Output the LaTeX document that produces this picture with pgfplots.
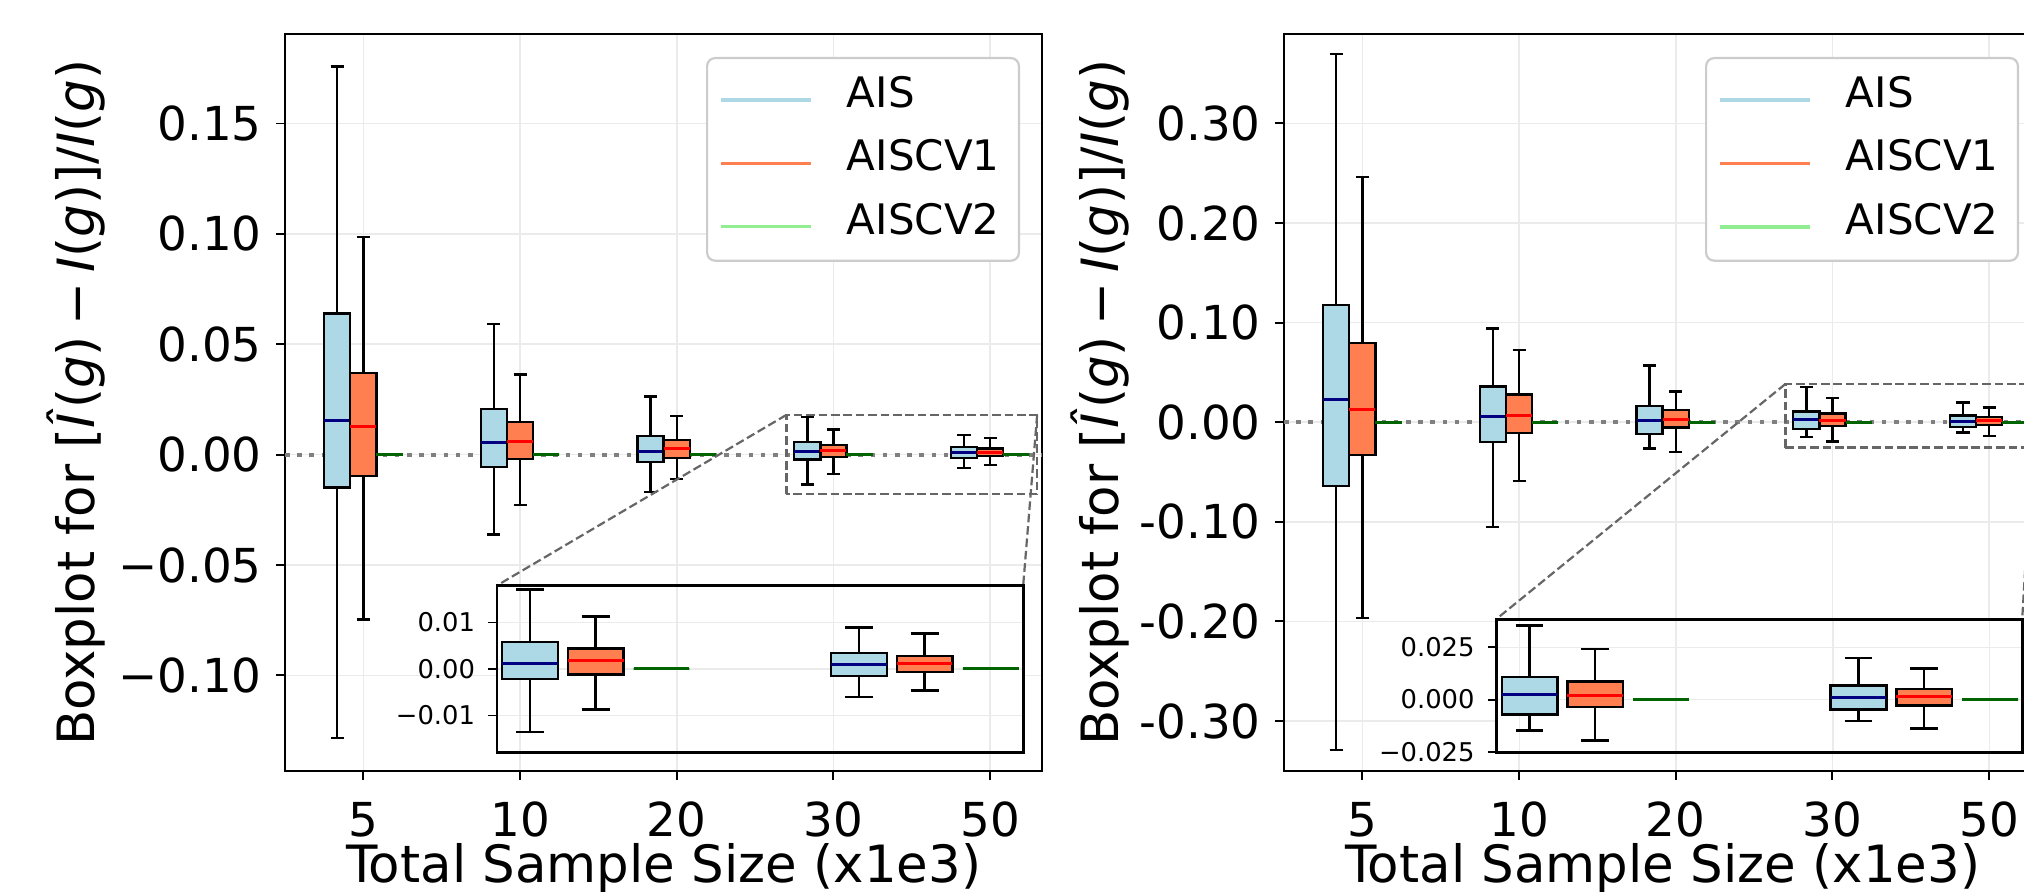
\documentclass[border=0pt]{standalone}
\usepackage{fontspec}
\setmainfont{DejaVu Sans}
\usepackage{pgfplots}
\pgfplotsset{compat=1.18}
\usepgfplotslibrary{statistics}

\definecolor{aisfill}{HTML}{ADD8E6}
\definecolor{cvfill}{HTML}{FF7F50}
\definecolor{cvtwo}{HTML}{90EE90}
\definecolor{navymed}{HTML}{000080}
\definecolor{greenmed}{HTML}{006400}
\definecolor{gridgray}{HTML}{EBEBEB}
\definecolor{legframe}{HTML}{CCCCCC}

\newcommand{\tickfont}{\fontsize{23.4pt}{28pt}\selectfont}
\newcommand{\labfont}{\fontsize{25.7pt}{30pt}\selectfont}
\newcommand{\legfont}{\fontsize{21pt}{25pt}\selectfont}
\newcommand{\insfont}{\fontsize{12.9pt}{15pt}\selectfont}
\newcommand{\ylab}{Boxplot for [\textit{Î}(\textit{g})\hspace{0.2em}−\hspace{0.2em}\textit{I}(\textit{g})]/\textit{I}(\textit{g})}
\newcommand{\legtext}[1]{\makebox[79.8pt][l]{#1}}

\tikzset{dashrect/.style={draw=black!60, line width=1.1pt, dash pattern=on 4.3pt off 1.9pt}}

\pgfplotsset{
  ais/.style={forget plot, draw=black, line width=1.2pt,
    boxplot/every box/.style={fill=aisfill},
    boxplot/every median/.style={draw=navymed, line width=1.5pt}},
  cv1/.style={forget plot, draw=black, line width=1.2pt,
    boxplot/every box/.style={fill=cvfill},
    boxplot/every median/.style={draw=red, line width=1.5pt}},
  cv2/.style={forget plot, draw=greenmed, line width=1.2pt,
    boxplot/every box/.style={fill=cvtwo},
    boxplot/every median/.style={draw=greenmed, line width=1.5pt}},
  mainbox/.style={boxplot/draw direction=y, boxplot/box extend=0.1667, boxplot/whisker extend=0.0833},
  insbox/.style={boxplot/draw direction=y, boxplot/box extend=0.355, boxplot/whisker extend=0.178},
  mainax/.style={
    scale only axis, width=378.65pt, height=368.35pt, anchor=south west,
    xmin=-0.5, xmax=4.333,
    xtick={0,1,2,3,4}, xticklabels={5,10,20,30,50},
    scaled y ticks=false,
    tick align=outside, xtick pos=bottom, ytick pos=left,
    major tick length=4.5pt,
    every tick/.style={black, line width=0.95pt},
    axis line style={line width=0.95pt},
    grid=major, major grid style={gridgray, line width=0.8pt},
    tick label style={font=\tickfont},
    xticklabel style={anchor=base, yshift=-28.15pt},
    yticklabel style={anchor=east, inner sep=0pt, xshift=-7pt},
    xlabel={Total Sample Size (x1e3)},
    xlabel style={font=\labfont, at={(axis description cs:0.5,-0.1507)}, anchor=base},
    ylabel={\ylab},
    ylabel style={font=\labfont, anchor=base},
    legend image code/.code={\draw[##1] (0pt,-2pt) -- (45pt,-2pt);},
    legend style={anchor=north east, draw=legframe, line width=1.1pt,
      rounded corners=4pt, fill=white, inner xsep=6.2pt, inner ysep=3.1pt,
      column sep=17pt, row sep=0pt, font=\legfont,
      nodes={inner sep=0pt, text height=21.5pt, text depth=10.2pt}},
    legend cell align=left,
  },
  insetax/.style={
    scale only axis, width=263.2pt, anchor=south west,
    xmin=0.852, xmax=4.211,
    xtick={1,2,3,4}, xticklabels={}, xtick style={draw=none},
    scaled y ticks=false,
    tick align=outside, ytick pos=left, major tick length=4.2pt,
    every tick/.style={black, line width=0.95pt},
    axis line style={line width=1.3pt},
    axis background/.style={fill=white},
    grid=major, major grid style={gridgray, line width=0.8pt},
    tick label style={font=\insfont},
    yticklabel style={anchor=east, inner sep=0pt, xshift=-6.5pt},
  },
}

\begin{document}
\begin{tikzpicture}
\path[use as bounding box] (0,0) rectangle (1012pt,445.5pt);
\clip (0,0) rectangle (1012pt,445.5pt);

% ---------------- left panel ----------------
\begin{axis}[mainax, at={(142.5pt,60pt)},
  ymin=-0.1433, ymax=0.1904,
  ytick={-0.1,-0.05,0,0.05,0.1,0.15},
  yticklabels={−0.10,−0.05,0.00,0.05,0.10,0.15},
  ylabel style={at={(axis description cs:-0.2509,0.5)}},
  legend style={at={(axis description cs:0.9706,0.9692)}}]
\addlegendimage{draw=aisfill, line width=1.7pt}\addlegendentry{\legtext{AIS}}
\addlegendimage{draw=cvfill, line width=1.7pt}\addlegendentry{\legtext{AISCV1}}
\addlegendimage{draw=cvtwo, line width=1.7pt}\addlegendentry{\legtext{AISCV2}}
\addplot[forget plot, draw=gray, line width=2pt, dash pattern=on 2.3pt off 3.8pt] coordinates {(-0.5,0) (4.333,0)};
% 5
\addplot[ais, boxplot prepared={draw position=-0.1667, lower whisker=-0.1284, lower quartile=-0.0149, median=0.0155, upper quartile=0.0639, upper whisker=0.1758}, mainbox] coordinates {};
\addplot[cv1, boxplot prepared={draw position=0, lower whisker=-0.0747, lower quartile=-0.0098, median=0.0126, upper quartile=0.0369, upper whisker=0.0985}, mainbox] coordinates {};
\addplot[cv2, boxplot prepared={draw position=0.1667, lower whisker=0, lower quartile=0, median=0, upper quartile=0, upper whisker=0}, mainbox] coordinates {};
% 10
\addplot[ais, boxplot prepared={draw position=0.8333, lower whisker=-0.0361, lower quartile=-0.0057, median=0.0057, upper quartile=0.0206, upper whisker=0.0593}, mainbox] coordinates {};
\addplot[cv1, boxplot prepared={draw position=1, lower whisker=-0.0227, lower quartile=-0.0021, median=0.0059, upper quartile=0.0149, upper whisker=0.0363}, mainbox] coordinates {};
\addplot[cv2, boxplot prepared={draw position=1.1667, lower whisker=0, lower quartile=0, median=0, upper quartile=0, upper whisker=0}, mainbox] coordinates {};
% 20
\addplot[ais, boxplot prepared={draw position=1.8333, lower whisker=-0.0170, lower quartile=-0.0034, median=0.0013, upper quartile=0.0085, upper whisker=0.0263}, mainbox] coordinates {};
\addplot[cv1, boxplot prepared={draw position=2, lower whisker=-0.0111, lower quartile=-0.0015, median=0.0028, upper quartile=0.0067, upper whisker=0.0175}, mainbox] coordinates {};
\addplot[cv2, boxplot prepared={draw position=2.1667, lower whisker=0, lower quartile=0, median=0, upper quartile=0, upper whisker=0}, mainbox] coordinates {};
% 30
\addplot[ais, boxplot prepared={draw position=2.8333, lower whisker=-0.0136, lower quartile=-0.0022, median=0.0012, upper quartile=0.0058, upper whisker=0.0171}, mainbox] coordinates {};
\addplot[cv1, boxplot prepared={draw position=3, lower whisker=-0.0087, lower quartile=-0.0012, median=0.0019, upper quartile=0.0044, upper whisker=0.0113}, mainbox] coordinates {};
\addplot[cv2, boxplot prepared={draw position=3.1667, lower whisker=0, lower quartile=0, median=0, upper quartile=0, upper whisker=0}, mainbox] coordinates {};
% 50
\addplot[ais, boxplot prepared={draw position=3.8333, lower whisker=-0.0060, lower quartile=-0.0015, median=0.0009, upper quartile=0.0034, upper whisker=0.0089}, mainbox] coordinates {};
\addplot[cv1, boxplot prepared={draw position=4, lower whisker=-0.0046, lower quartile=-0.0006, median=0.0011, upper quartile=0.0028, upper whisker=0.0076}, mainbox] coordinates {};
\addplot[cv2, boxplot prepared={draw position=4.1667, lower whisker=0, lower quartile=0, median=0, upper quartile=0, upper whisker=0}, mainbox] coordinates {};
\draw[dashrect] (axis cs:2.7,-0.018) rectangle (axis cs:4.3,0.018);
\draw[dashrect] (axis cs:2.7,0.018) -- (axis cs:0.852,-0.0593);
\draw[dashrect] (axis cs:4.3,0.018) -- (axis cs:4.211,-0.0593);
\end{axis}

\begin{axis}[insetax, at={(248.4pt,69.15pt)}, height=83.5pt,
  ymin=-0.018, ymax=0.0179,
  ytick={-0.01,0,0.01}, yticklabels={−0.01,0.00,0.01}]
\addplot[ais, boxplot prepared={draw position=1.064, lower whisker=-0.0136, lower quartile=-0.0022, median=0.0012, upper quartile=0.0058, upper whisker=0.0171}, insbox] coordinates {};
\addplot[cv1, boxplot prepared={draw position=1.483, lower whisker=-0.0087, lower quartile=-0.0012, median=0.0019, upper quartile=0.0044, upper whisker=0.0113}, insbox] coordinates {};
\addplot[cv2, boxplot prepared={draw position=1.903, lower whisker=0, lower quartile=0, median=0, upper quartile=0, upper whisker=0}, insbox] coordinates {};
\addplot[ais, boxplot prepared={draw position=3.163, lower whisker=-0.0060, lower quartile=-0.0015, median=0.0009, upper quartile=0.0034, upper whisker=0.0089}, insbox] coordinates {};
\addplot[cv1, boxplot prepared={draw position=3.582, lower whisker=-0.0046, lower quartile=-0.0006, median=0.0011, upper quartile=0.0028, upper whisker=0.0076}, insbox] coordinates {};
\addplot[cv2, boxplot prepared={draw position=4.004, lower whisker=0, lower quartile=0, median=0, upper quartile=0, upper whisker=0}, insbox] coordinates {};
\end{axis}

% ---------------- right panel ----------------
\begin{axis}[mainax, at={(642pt,60pt)},
  ymin=-0.3502, ymax=0.3895,
  ytick={-0.3,-0.2,-0.1,0,0.1,0.2,0.3},
  yticklabels={-0.30,-0.20,-0.10,0.00,0.10,0.20,0.30},
  ylabel style={at={(axis description cs:-0.2192,0.5)}},
  legend style={at={(axis description cs:0.9706,0.9692)}}]
\addlegendimage{draw=aisfill, line width=1.7pt}\addlegendentry{\legtext{AIS}}
\addlegendimage{draw=cvfill, line width=1.7pt}\addlegendentry{\legtext{AISCV1}}
\addlegendimage{draw=cvtwo, line width=1.7pt}\addlegendentry{\legtext{AISCV2}}
\addplot[forget plot, draw=gray, line width=2pt, dash pattern=on 2.3pt off 3.8pt] coordinates {(-0.5,0) (4.333,0)};
% 5
\addplot[ais, boxplot prepared={draw position=-0.1667, lower whisker=-0.329, lower quartile=-0.0639, median=0.0228, upper quartile=0.1175, upper whisker=0.3697}, mainbox] coordinates {};
\addplot[cv1, boxplot prepared={draw position=0, lower whisker=-0.1968, lower quartile=-0.0331, median=0.0125, upper quartile=0.0793, upper whisker=0.2464}, mainbox] coordinates {};
\addplot[cv2, boxplot prepared={draw position=0.1667, lower whisker=0, lower quartile=0, median=0, upper quartile=0, upper whisker=0}, mainbox] coordinates {};
% 10
\addplot[ais, boxplot prepared={draw position=0.8333, lower whisker=-0.1055, lower quartile=-0.0200, median=0.0057, upper quartile=0.0359, upper whisker=0.0941}, mainbox] coordinates {};
\addplot[cv1, boxplot prepared={draw position=1, lower whisker=-0.0588, lower quartile=-0.0108, median=0.0068, upper quartile=0.0280, upper whisker=0.0724}, mainbox] coordinates {};
\addplot[cv2, boxplot prepared={draw position=1.1667, lower whisker=0, lower quartile=0, median=0, upper quartile=0, upper whisker=0}, mainbox] coordinates {};
% 20
\addplot[ais, boxplot prepared={draw position=1.8333, lower whisker=-0.0262, lower quartile=-0.0120, median=0.0017, upper quartile=0.0160, upper whisker=0.0570}, mainbox] coordinates {};
\addplot[cv1, boxplot prepared={draw position=2, lower whisker=-0.0297, lower quartile=-0.0051, median=0.0029, upper quartile=0.0125, upper whisker=0.0308}, mainbox] coordinates {};
\addplot[cv2, boxplot prepared={draw position=2.1667, lower whisker=0, lower quartile=0, median=0, upper quartile=0, upper whisker=0}, mainbox] coordinates {};
% 30
\addplot[ais, boxplot prepared={draw position=2.8333, lower whisker=-0.0148, lower quartile=-0.0071, median=0.0024, upper quartile=0.0108, upper whisker=0.0354}, mainbox] coordinates {};
\addplot[cv1, boxplot prepared={draw position=3, lower whisker=-0.0195, lower quartile=-0.0035, median=0.0019, upper quartile=0.0086, upper whisker=0.0241}, mainbox] coordinates {};
\addplot[cv2, boxplot prepared={draw position=3.1667, lower whisker=0, lower quartile=0, median=0, upper quartile=0, upper whisker=0}, mainbox] coordinates {};
% 50
\addplot[ais, boxplot prepared={draw position=3.8333, lower whisker=-0.0103, lower quartile=-0.0048, median=0.0008, upper quartile=0.0068, upper whisker=0.0198}, mainbox] coordinates {};
\addplot[cv1, boxplot prepared={draw position=4, lower whisker=-0.0138, lower quartile=-0.0029, median=0.0017, upper quartile=0.0051, upper whisker=0.0149}, mainbox] coordinates {};
\addplot[cv2, boxplot prepared={draw position=4.1667, lower whisker=0, lower quartile=0, median=0, upper quartile=0, upper whisker=0}, mainbox] coordinates {};
\draw[dashrect] (axis cs:2.7,-0.0254) rectangle (axis cs:4.3,0.0384);
\draw[dashrect] (axis cs:2.7,0.0384) -- (axis cs:0.853,-0.1979);
\draw[dashrect] (axis cs:4.3,0.0384) -- (axis cs:4.211,-0.1979);
\end{axis}

\begin{axis}[insetax, at={(748.15pt,69.15pt)}, height=66.7pt,
  ymin=-0.0254, ymax=0.0384,
  ytick={-0.025,0,0.025}, yticklabels={−0.025,0.000,0.025}]
\addplot[ais, boxplot prepared={draw position=1.064, lower whisker=-0.0148, lower quartile=-0.0071, median=0.0024, upper quartile=0.0108, upper whisker=0.0354}, insbox] coordinates {};
\addplot[cv1, boxplot prepared={draw position=1.483, lower whisker=-0.0195, lower quartile=-0.0035, median=0.0019, upper quartile=0.0086, upper whisker=0.0241}, insbox] coordinates {};
\addplot[cv2, boxplot prepared={draw position=1.903, lower whisker=0, lower quartile=0, median=0, upper quartile=0, upper whisker=0}, insbox] coordinates {};
\addplot[ais, boxplot prepared={draw position=3.163, lower whisker=-0.0103, lower quartile=-0.0048, median=0.0008, upper quartile=0.0068, upper whisker=0.0198}, insbox] coordinates {};
\addplot[cv1, boxplot prepared={draw position=3.582, lower whisker=-0.0138, lower quartile=-0.0029, median=0.0017, upper quartile=0.0051, upper whisker=0.0149}, insbox] coordinates {};
\addplot[cv2, boxplot prepared={draw position=4.004, lower whisker=0, lower quartile=0, median=0, upper quartile=0, upper whisker=0}, insbox] coordinates {};
\end{axis}
\end{tikzpicture}
\end{document}
